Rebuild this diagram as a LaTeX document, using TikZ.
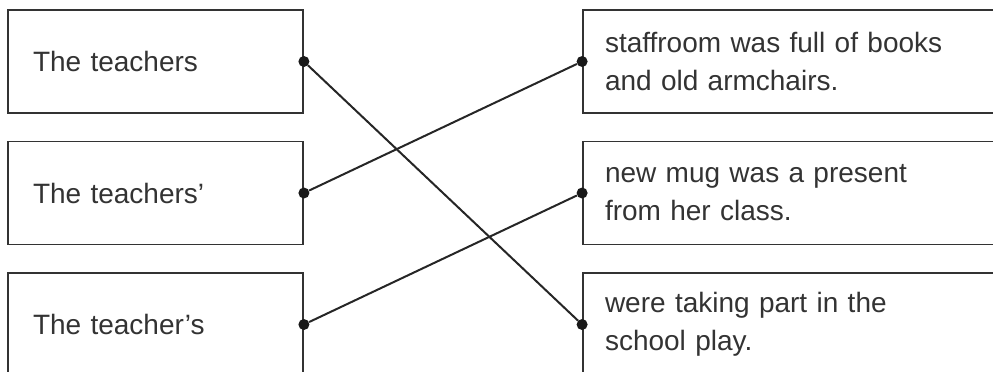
\documentclass[tikz,border=0pt]{standalone}
\usepackage{fontspec}
\setmainfont{Liberation Sans}

\begin{document}
\begin{tikzpicture}[x=1pt,y=-1pt]
\tikzset{lbox/.style={draw=black!80,line width=1.8pt,minimum width=295pt,minimum height=103pt,
    text width=245pt,inner xsep=25pt,align=left,text=black!80,font=\fontsize{28}{38}\selectfont},
  rbox/.style={lbox,minimum width=427pt,text width=383pt,inner xsep=22pt},
  link/.style={line width=2pt,black!85},
  dot/.style={circle,fill=black!90,inner sep=0pt,minimum size=11pt}}
\useasboundingbox (0,0) rectangle (993,372);
\clip (0,0) rectangle (993,372);

\node[lbox] (l1) at (155.5,61.5) {The teachers};
\node[lbox] (l2) at (155.5,193) {The teachers'};
\node[lbox] (l3) at (155.5,324.5) {The teacher's};

\node[rbox] (r1) at (796.5,61.5) {staffroom was full of books\\and old armchairs.};
\node[rbox] (r2) at (796.5,193) {new mug was a present\\from her class.};
\node[rbox] (r3) at (796.5,324.5) {were taking part in the\\school play.};

\foreach \n in {l1,l2,l3} \node[dot] (\n d) at (\n.east) {};
\foreach \n in {r1,r2,r3} \node[dot] (\n d) at (\n.west) {};

\draw[link] (l1d) -- (r3d);
\draw[link] (l2d) -- (r1d);
\draw[link] (l3d) -- (r2d);

\end{tikzpicture}
\end{document}
